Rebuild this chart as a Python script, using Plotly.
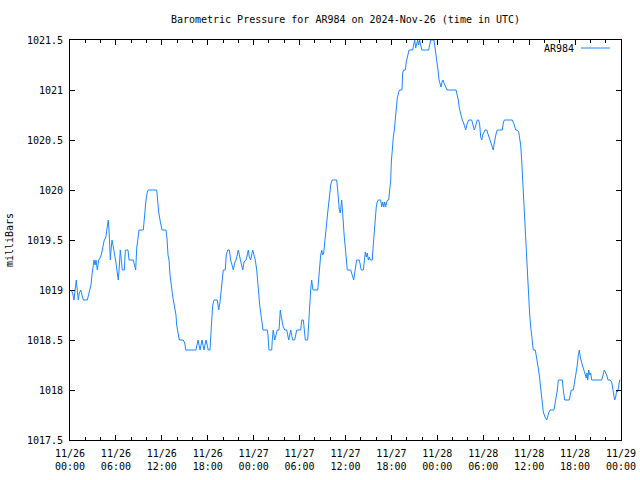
import pandas as pd
import plotly.graph_objects as go

# Hours since 2024-11-26 00:00 UTC
hours = [0.13, 0.35, 0.52, 0.69, 0.82, 0.95, 1.08, 1.22, 1.40, 1.57, 1.74, 2.26, 2.44, 2.57, 2.74, 2.87,
         3.01, 3.14, 3.27, 3.40, 3.57, 3.75, 3.92, 4.09, 4.22, 4.35, 4.48, 4.66, 4.80, 4.93, 5.00, 5.10,
         5.19, 5.27, 5.36, 5.49, 5.62, 5.75, 5.88, 6.01, 6.18, 6.31, 6.44, 6.57, 6.70, 6.83, 7.10, 7.23,
         7.58, 7.71, 8.27, 8.45, 8.58, 8.72, 8.85, 9.02, 9.58, 9.67, 9.80, 9.93, 10.10, 10.23, 11.33, 11.46,
         11.59, 11.76, 11.89, 12.02, 12.54, 12.67, 12.81, 12.94, 13.07, 13.20, 13.37, 13.50, 13.68, 13.85,
         13.94, 14.11, 14.28, 14.80, 14.99, 15.12, 16.46, 16.73, 16.99, 17.25, 17.51, 17.77, 18.07, 18.29,
         18.38, 18.52, 18.65, 18.82, 19.25, 19.43, 19.60, 19.73, 19.86, 20.03, 20.29, 20.42, 20.61, 20.82,
         21.00, 21.17, 21.34, 21.52, 21.69, 21.86, 21.99, 22.21, 22.38, 22.57, 22.74, 23.00, 23.17, 23.30,
         23.43, 23.61, 23.74, 23.87, 24.04, 24.21, 24.40, 24.53, 24.66, 24.79, 24.96, 25.09, 25.22, 25.78,
         25.87, 26.00, 26.36, 26.43, 26.56, 26.75, 26.92, 27.09, 27.31, 27.40, 27.48, 27.61, 27.74, 27.87,
         28.06, 28.32, 28.45, 28.58, 28.71, 28.84, 28.97, 29.10, 29.36, 29.49, 29.62, 30.15, 30.28, 30.49,
         30.62, 30.75, 31.06, 31.19, 31.32, 31.45, 31.58, 31.66, 31.75, 32.37, 32.50, 32.63, 32.76, 32.89,
         33.02, 33.15, 33.28, 33.41, 33.54, 33.67, 33.80, 33.93, 34.07, 34.24, 34.85, 34.98, 35.11, 35.19,
         35.32, 35.41, 35.50, 35.63, 35.71, 35.84, 35.97, 36.10, 36.23, 36.68, 36.81, 36.94, 37.07, 37.20,
         37.33, 37.46, 37.80, 37.93, 38.06, 38.33, 38.46, 38.59, 38.72, 38.85, 38.98, 39.11, 39.24, 39.50,
         39.63, 39.76, 39.89, 40.02, 40.15, 40.28, 40.60, 40.73, 40.86, 40.99, 41.12, 41.25, 41.38, 41.51,
         41.64, 41.77, 41.91, 41.98, 42.11, 42.25, 42.38, 42.51, 42.64, 42.77, 42.95, 43.08, 43.38, 43.47,
         43.60, 43.81, 43.94, 44.13, 44.30, 44.78, 44.91, 45.04, 45.17, 45.30, 45.43, 45.56, 45.69, 45.83,
         45.96, 46.87, 47.00, 47.13, 47.56, 47.69, 47.82, 47.96, 48.09, 48.22, 48.35, 48.48, 48.61, 48.74,
         48.87, 49.00, 49.13, 49.26, 50.44, 50.61, 50.74, 50.87, 51.00, 51.13, 51.26, 51.39, 51.52, 51.71,
         51.84, 51.97, 52.10, 52.49, 52.70, 52.83, 52.96, 53.09, 53.22, 53.40, 53.54, 53.67, 53.80, 53.93,
         54.06, 54.23, 54.45, 54.58, 54.71, 54.88, 55.01, 55.14, 55.31, 55.44, 55.57, 55.70, 55.83, 56.49,
         56.62, 56.75, 57.80, 57.93, 58.06, 58.24, 58.41, 58.63, 58.76, 58.89, 59.02, 59.15, 59.26, 59.39,
         59.52, 59.62, 59.76, 59.89, 60.02, 60.15, 60.28, 60.41, 60.54, 60.80, 60.93, 61.06, 61.19, 61.32,
         61.45, 61.58, 61.72, 61.85, 62.07, 62.29, 62.55, 62.72, 63.24, 63.37, 63.50, 63.68, 63.81, 64.33,
         64.46, 64.64, 65.24, 65.37, 65.50, 65.77, 65.95, 66.12, 66.29, 66.42, 66.55, 66.68, 66.81, 66.94,
         67.07, 67.20, 67.33, 67.46, 67.56, 67.65, 67.78, 67.91, 68.04, 68.17, 69.48, 69.65, 69.82, 70.00,
         70.13, 70.30, 70.56, 70.78, 70.91, 71.04, 71.17, 71.31, 71.44, 71.57, 71.70, 71.83, 71.91]

pressure = [1019.0, 1018.97, 1018.9, 1019.05, 1019.1, 1019.0, 1018.9, 1018.97, 1019.0, 1018.95, 1018.9, 1018.9, 1018.97, 1019.0, 1019.05, 1019.15,
            1019.23, 1019.3, 1019.25, 1019.3, 1019.2, 1019.3, 1019.32, 1019.35, 1019.4, 1019.45, 1019.5, 1019.52, 1019.6, 1019.67, 1019.7, 1019.6,
            1019.4, 1019.3, 1019.4, 1019.5, 1019.45, 1019.4, 1019.33, 1019.27, 1019.17, 1019.1, 1019.23, 1019.4, 1019.3, 1019.2, 1019.2, 1019.4,
            1019.4, 1019.3, 1019.3, 1019.25, 1019.2, 1019.42, 1019.52, 1019.6, 1019.6, 1019.7, 1019.8, 1019.9, 1019.98, 1020.0, 1020.0, 1019.87,
            1019.78, 1019.7, 1019.65, 1019.6, 1019.6, 1019.52, 1019.35, 1019.3, 1019.15, 1019.05, 1018.97, 1018.9, 1018.83, 1018.75,
            1018.65, 1018.57, 1018.5, 1018.5, 1018.47, 1018.4, 1018.4, 1018.5, 1018.4, 1018.5, 1018.4, 1018.5, 1018.4, 1018.4,
            1018.57, 1018.7, 1018.85, 1018.9, 1018.9, 1018.8, 1018.88, 1019.0, 1019.1, 1019.2, 1019.2, 1019.35, 1019.4, 1019.4,
            1019.3, 1019.25, 1019.2, 1019.27, 1019.3, 1019.35, 1019.4, 1019.32, 1019.25, 1019.2, 1019.28, 1019.3, 1019.35, 1019.4,
            1019.33, 1019.3, 1019.35, 1019.4, 1019.35, 1019.3, 1019.2, 1019.05, 1018.95, 1018.85, 1018.75, 1018.67, 1018.6, 1018.6,
            1018.55, 1018.4, 1018.4, 1018.5, 1018.6, 1018.5, 1018.55, 1018.6, 1018.6, 1018.7, 1018.8, 1018.73, 1018.67, 1018.63,
            1018.6, 1018.6, 1018.55, 1018.5, 1018.55, 1018.6, 1018.55, 1018.5, 1018.5, 1018.57, 1018.6, 1018.6, 1018.7, 1018.7,
            1018.6, 1018.5, 1018.5, 1018.7, 1018.85, 1019.0, 1019.1, 1019.05, 1019.0, 1019.0, 1019.15, 1019.3, 1019.35, 1019.4,
            1019.35, 1019.37, 1019.45, 1019.55, 1019.67, 1019.77, 1019.87, 1019.97, 1020.05, 1020.1, 1020.1, 1020.0, 1019.87, 1019.8,
            1019.77, 1019.83, 1019.9, 1019.77, 1019.63, 1019.53, 1019.43, 1019.33, 1019.2, 1019.2, 1019.17, 1019.13, 1019.1, 1019.17,
            1019.22, 1019.3, 1019.3, 1019.23, 1019.2, 1019.2, 1019.3, 1019.38, 1019.33, 1019.37, 1019.3, 1019.33, 1019.3, 1019.3,
            1019.45, 1019.58, 1019.73, 1019.83, 1019.88, 1019.9, 1019.9, 1019.83, 1019.88, 1019.83, 1019.88, 1019.83, 1019.88, 1019.9,
            1019.9, 1020.0, 1020.1, 1020.27, 1020.43, 1020.53, 1020.6, 1020.7, 1020.83, 1020.92, 1020.98, 1021.0, 1021.0, 1021.17,
            1021.2, 1021.2, 1021.28, 1021.33, 1021.4, 1021.4, 1021.47, 1021.5, 1021.42, 1021.47, 1021.5, 1021.45, 1021.5, 1021.45,
            1021.4, 1021.4, 1021.47, 1021.5, 1021.5, 1021.43, 1021.37, 1021.28, 1021.2, 1021.1, 1021.07, 1021.03, 1021.08, 1021.1,
            1021.07, 1021.05, 1021.03, 1021.0, 1021.0, 1020.95, 1020.9, 1020.82, 1020.77, 1020.72, 1020.7, 1020.68, 1020.65, 1020.6,
            1020.65, 1020.67, 1020.7, 1020.7, 1020.65, 1020.6, 1020.63, 1020.67, 1020.7, 1020.7, 1020.65, 1020.53, 1020.5, 1020.55,
            1020.58, 1020.6, 1020.6, 1020.57, 1020.53, 1020.48, 1020.47, 1020.43, 1020.4, 1020.47, 1020.53, 1020.57, 1020.6, 1020.6,
            1020.67, 1020.7, 1020.7, 1020.68, 1020.65, 1020.6, 1020.6, 1020.58, 1020.53, 1020.45, 1020.3, 1020.1, 1019.92, 1019.72,
            1019.52, 1019.3, 1019.12, 1018.98, 1018.82, 1018.67, 1018.55, 1018.47, 1018.4, 1018.4, 1018.35, 1018.28, 1018.22, 1018.15,
            1018.07, 1017.97, 1017.87, 1017.78, 1017.73, 1017.7, 1017.77, 1017.8, 1017.8, 1017.85, 1017.9, 1018.0, 1018.1, 1018.1,
            1018.0, 1017.9, 1017.9, 1017.97, 1018.0, 1018.0, 1018.08, 1018.17, 1018.25, 1018.35, 1018.4, 1018.33, 1018.28, 1018.25,
            1018.22, 1018.18, 1018.15, 1018.12, 1018.17, 1018.1, 1018.2, 1018.15, 1018.17, 1018.1, 1018.1, 1018.15, 1018.2, 1018.17,
            1018.15, 1018.1, 1018.1, 1018.08, 1018.02, 1017.95, 1017.9, 1017.93, 1018.0, 1017.98, 1018.05, 1018.1, 1018.1]

start = pd.Timestamp("2024-11-26 00:00")
end = pd.Timestamp("2024-11-29 00:00")
times = [start + pd.Timedelta(hours=h) for h in hours]

title_text = "Barometric Pressure for AR984 on 2024-Nov-26 (time in UTC)"
series_name = "AR984"
y_title = "milliBars"

FONT = "DejaVu Sans Mono"
LINE_COLOR = "#1a88ff"

fig = go.Figure()
fig.add_trace(go.Scatter(x=times, y=pressure, mode="lines", name=series_name,
                         line=dict(color=LINE_COLOR, width=1), showlegend=False))

fig.update_layout(
    width=640, height=480,
    margin=dict(l=70, r=19, t=40, b=40, autoexpand=False),
    paper_bgcolor="white", plot_bgcolor="white",
    font=dict(family=FONT, size=10, color="black"),
    title=dict(text=title_text, x=0.5, xref="paper", y=1 - 19/480, yanchor="middle",
               font=dict(family=FONT, size=10, color="black")),
)

fig.update_xaxes(
    range=[start, end], type="date", automargin=False,
    tickformat="%m/%d<br>%H:%M", dtick=6 * 3600 * 1000, tick0=start,
    ticks="inside", ticklen=5, tickcolor="black", tickwidth=1,
    showline=True, linecolor="black", linewidth=1, mirror="allticks",
    showgrid=False, zeroline=False,
    minor=dict(dtick=2 * 3600 * 1000, ticks="inside", ticklen=3, tickcolor="black", showgrid=False),
    tickfont=dict(family=FONT, size=10, color="black"),
    ticklabelstandoff=4,
)
fig.update_yaxes(
    range=[1017.5, 1021.5], dtick=0.5, tick0=1017.5, automargin=False,
    tickformat=".1~f",
    ticks="inside", ticklen=5, tickcolor="black", tickwidth=1,
    showline=True, linecolor="black", linewidth=1, mirror="allticks",
    showgrid=False, zeroline=False,
    tickfont=dict(family=FONT, size=10, color="black"),
    ticklabelstandoff=4,
    title=dict(text=y_title, font=dict(family=FONT, size=10, color="black"), standoff=11),
)

# gnuplot-style key: label on the left, line sample on the right
fig.add_annotation(xref="paper", yref="paper", x=(576 - 70) / 551, y=1 - 8 / 400,
                   text=series_name, showarrow=False, xanchor="right", yanchor="middle",
                   font=dict(family=FONT, size=10, color="black"))
fig.add_shape(type="line", xref="paper", yref="paper",
              x0=(581 - 70) / 551, x1=(610 - 70) / 551, y0=1 - 8 / 400, y1=1 - 8 / 400,
              line=dict(color=LINE_COLOR, width=1))

fig.write_html("out.html")
